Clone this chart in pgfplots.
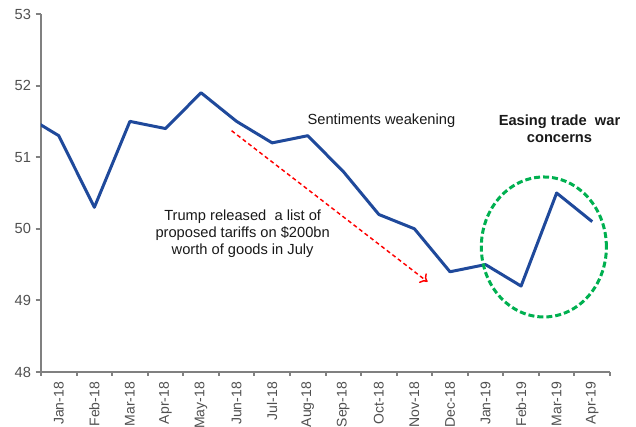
\documentclass[border=0pt]{standalone}
\usepackage{fontspec}
\setmainfont{Liberation Sans}
\usepackage{pgfplots}
\pgfplotsset{compat=1.18}
\usetikzlibrary{arrows.meta}
\definecolor{pmiblue}{RGB}{31,73,155}
\definecolor{axisgray}{RGB}{128,128,128}
\definecolor{labelgray}{RGB}{80,80,80}
\definecolor{txt}{RGB}{25,25,25}
\definecolor{ellgreen}{RGB}{0,176,80}
\begin{document}
\begin{tikzpicture}
\begin{axis}[
  at={(0,0)}, anchor=south west, scale only axis,
  width=426.75pt, height=268.5pt,
  xmin=-0.5, xmax=15.5, ymin=48, ymax=53,
  axis x line*=bottom, axis y line*=left,
  axis line style={draw=axisgray, line width=1.5pt, -},
  ytick={48,...,53},
  xtick={0,...,15},
  xticklabels={Jan-18,Feb-18,Mar-18,Apr-18,May-18,Jun-18,Jul-18,Aug-18,Sep-18,Oct-18,Nov-18,Dec-18,Jan-19,Feb-19,Mar-19,Apr-19},
  minor xtick={-0.5,0.5,...,15.5},
  major x tick style={draw=none},
  minor x tick style={draw=axisgray, line width=1.5pt},
  major y tick style={draw=axisgray, line width=1.5pt},
  tick align=outside,
  major tick length=4pt, minor tick length=3pt,
  x tick label style={rotate=90, anchor=east, font=\fontsize{10.5}{12}\selectfont, text=labelgray},
  y tick label style={font=\fontsize{11}{13}\selectfont, text=labelgray},
  /pgf/number format/assume math mode=true,
  clip mode=individual,
]
\addplot[pmiblue, line width=2.25pt, mark=none, line join=round] coordinates {
(-1,51.6)(0,51.3)(1,50.3)(2,51.5)(3,51.4)(4,51.9)(5,51.5)(6,51.2)(7,51.3)(8,50.8)(9,50.2)(10,50.0)(11,49.4)(12,49.5)(13,49.2)(14,50.5)(15,50.1)};
\draw[red, line width=1.1pt, dash pattern=on 3pt off 2.25pt, -{To[length=5pt,width=9pt,line width=1.1pt]}]
  (axis cs:4.86,51.37) -- (axis cs:10.37,49.26);
\draw[ellgreen, line width=2.25pt, dash pattern=on 4.5pt off 2.25pt]
  (axis cs:13.64,49.746) ellipse [x radius=46.9pt, y radius=52.5pt];
\node[anchor=west, text=txt, font=\fontsize{11}{12.75}\selectfont, inner sep=0pt] at (axis cs:6.99,51.505) {Sentiments weakening};
\node[align=center, text=txt, font=\fontsize{11}{12.75}\selectfont, inner sep=0pt] at (axis cs:5.17,49.93) {Trump released\ \ a list of\\proposed tariffs on \$200bn\\worth of goods in July};
\node[align=center, text=txt, font=\bfseries\fontsize{11}{12.75}\selectfont, inner sep=0pt] at (axis cs:14.08,51.40) {Easing trade\ \ war\\concerns};
\end{axis}
\pgfresetboundingbox
\useasboundingbox (-30.75pt,-41.25pt) rectangle (446.25pt,279pt);
\end{tikzpicture}
\end{document}
